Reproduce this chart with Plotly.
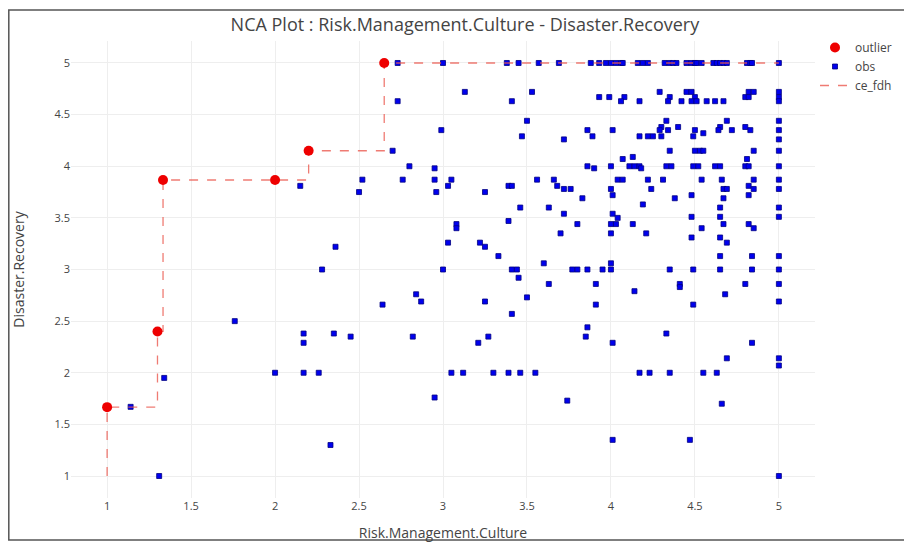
import plotly.graph_objects as go

# Outliers (red circles)
outlier_x = [1.00, 1.30, 1.333, 2.00, 2.20, 2.65]
outlier_y = [1.667, 2.40, 3.867, 3.867, 4.15, 5.00]

# CE-FDH ceiling line (step function)
ce_x = [1.00, 1.00, 1.30, 1.30, 1.333, 1.333, 2.20, 2.20, 2.65, 2.65, 5.00]
ce_y = [1.00, 1.667, 1.667, 2.40, 2.40, 3.867, 3.867, 4.15, 4.15, 5.00, 5.00]

# Observations
obs_x = [
    2.73, 3.00, 3.38, 3.45, 3.57, 3.69, 3.88, 3.93, 3.97, 4.00, 4.03, 4.06, 4.07, 4.16, 4.19, 4.22, 4.32,
    4.35, 4.37, 4.39, 4.45, 4.48, 4.50, 4.51, 4.54, 4.61, 4.63, 4.65, 4.67, 4.69, 4.81, 4.83, 4.84, 5.00,
    3.13, 3.53, 4.29, 4.45, 4.48, 4.82, 4.85, 5.00,
    3.93, 3.99, 4.08, 4.35, 4.50, 4.80, 4.82, 5.00,
    2.73, 3.41, 4.06, 4.17, 4.34, 4.42, 4.48, 4.51, 4.57, 4.62, 4.67, 5.00,
    3.50, 4.33, 4.69, 5.00,
    4.30, 4.40, 4.65, 4.80,
    2.99, 3.86, 4.01, 4.29, 4.34, 4.50, 4.64, 4.72, 4.83, 5.00,
    4.55,
    3.47, 3.89, 4.17, 4.22, 4.25, 4.30, 4.49,
    3.72, 5.00,
    2.70, 4.35, 4.50, 4.53, 4.55, 4.85, 5.00,
    4.13,
    4.07, 4.81,
    2.80, 3.86, 4.00, 4.11, 4.14, 4.17, 4.33, 4.36, 4.49, 4.52, 4.62, 4.65, 4.80, 4.82, 5.00,
    2.95, 3.90, 4.18,
    2.52, 2.76, 2.95, 3.05, 3.56, 3.66, 4.04, 4.07, 4.22, 4.31, 4.54, 4.66, 4.85, 5.00,
    2.15, 3.03, 3.39, 3.41, 3.68, 4.82,
    3.72, 3.76, 4.00, 4.24, 4.67, 4.69, 4.85, 5.00,
    2.50, 2.96, 3.25,
    4.01, 4.48, 4.82,
    3.83, 4.38, 4.67,
    4.19,
    3.46, 3.63, 4.65, 5.00,
    3.72, 4.01,
    4.48, 4.65, 5.00,
    4.04,
    3.39,
    3.08, 3.80, 4.00, 4.03, 4.13, 4.67, 4.82,
    3.08, 4.54, 4.85,
    3.70, 4.00, 4.21,
    4.48, 4.65,
    3.03, 3.22, 4.69,
    2.36, 3.25,
    3.33, 4.65, 4.84, 5.00,
    3.60, 4.00,
    2.28, 3.00, 3.41, 3.44, 3.77, 3.80, 3.86, 3.95, 4.00, 4.35, 4.49, 4.65, 4.84, 5.00,
    3.45,
    3.63, 3.91, 4.41, 4.80, 5.00,
    4.41,
    4.14,
    2.84, 4.68,
    3.50,
    2.87, 3.25, 5.00,
    2.64, 3.91, 4.49,
    3.41,
    1.76,
    3.86,
    2.17, 2.35, 4.33,
    2.45, 2.82, 3.27, 3.85,
    2.17, 3.21, 4.01, 4.84,
    4.69, 5.00,
    5.00,
    2.00, 2.17, 2.26, 3.05, 3.12, 3.30, 3.39, 3.46, 3.55, 4.17, 4.23, 4.35, 4.55, 4.63,
    1.34,
    2.95,
    3.74,
    4.66,
    1.14,
    4.01, 4.47,
    2.33,
    1.31, 5.00,
]

obs_y = [
    5.00, 5.00, 5.00, 5.00, 5.00, 5.00, 5.00, 5.00, 5.00, 5.00, 5.00, 5.00, 5.00, 5.00, 5.00, 5.00, 5.00,
    5.00, 5.00, 5.00, 5.00, 5.00, 5.00, 5.00, 5.00, 5.00, 5.00, 5.00, 5.00, 5.00, 5.00, 5.00, 5.00, 5.00,
    4.72, 4.72, 4.72, 4.72, 4.72, 4.72, 4.72, 4.72,
    4.67, 4.67, 4.67, 4.67, 4.67, 4.67, 4.67, 4.67,
    4.63, 4.63, 4.63, 4.63, 4.63, 4.63, 4.63, 4.63, 4.63, 4.63, 4.63, 4.63,
    4.44, 4.44, 4.44, 4.44,
    4.38, 4.38, 4.38, 4.38,
    4.35, 4.35, 4.35, 4.35, 4.35, 4.35, 4.35, 4.35, 4.35, 4.35,
    4.32,
    4.29, 4.29, 4.29, 4.29, 4.29, 4.29, 4.29,
    4.26, 4.26,
    4.15, 4.15, 4.15, 4.15, 4.15, 4.15, 4.15,
    4.09,
    4.07, 4.07,
    4.00, 4.00, 4.00, 4.00, 4.00, 4.00, 4.00, 4.00, 4.00, 4.00, 4.00, 4.00, 4.00, 4.00, 4.00,
    3.98, 3.98, 3.98,
    3.87, 3.87, 3.87, 3.87, 3.87, 3.87, 3.87, 3.87, 3.87, 3.87, 3.87, 3.87, 3.87, 3.87,
    3.81, 3.81, 3.81, 3.81, 3.81, 3.81,
    3.78, 3.78, 3.78, 3.78, 3.78, 3.78, 3.78, 3.78,
    3.75, 3.75, 3.75,
    3.72, 3.72, 3.72,
    3.69, 3.69, 3.69,
    3.63,
    3.60, 3.60, 3.60, 3.60,
    3.54, 3.54,
    3.51, 3.51, 3.51,
    3.50,
    3.47,
    3.44, 3.44, 3.44, 3.44, 3.44, 3.44, 3.44,
    3.40, 3.40, 3.40,
    3.35, 3.35, 3.35,
    3.31, 3.31,
    3.26, 3.26, 3.26,
    3.22, 3.22,
    3.13, 3.13, 3.13, 3.13,
    3.06, 3.06,
    3.00, 3.00, 3.00, 3.00, 3.00, 3.00, 3.00, 3.00, 3.00, 3.00, 3.00, 3.00, 3.00, 3.00,
    2.92,
    2.86, 2.86, 2.86, 2.86, 2.86,
    2.83,
    2.79,
    2.76, 2.76,
    2.73,
    2.69, 2.69, 2.69,
    2.66, 2.66, 2.66,
    2.57,
    2.50,
    2.44,
    2.38, 2.38, 2.38,
    2.35, 2.35, 2.35, 2.35,
    2.29, 2.29, 2.29, 2.29,
    2.14, 2.14,
    2.07,
    2.00, 2.00, 2.00, 2.00, 2.00, 2.00, 2.00, 2.00, 2.00, 2.00, 2.00, 2.00, 2.00, 2.00,
    1.95,
    1.76,
    1.73,
    1.70,
    1.67,
    1.35, 1.35,
    1.30,
    1.00, 1.00,
]

assert len(obs_x) == len(obs_y), (len(obs_x), len(obs_y))

x_ticks = [1, 1.5, 2, 2.5, 3, 3.5, 4, 4.5, 5]
y_ticks = [1, 1.5, 2, 2.5, 3, 3.5, 4, 4.5, 5]

fig = go.Figure()
fig.add_trace(go.Scatter(
    x=obs_x, y=obs_y, mode="markers", name="obs", legendrank=2,
    marker=dict(symbol="square", size=5, color="#0000ee",
                line=dict(color="#000080", width=0.8)),
))
fig.add_trace(go.Scatter(
    x=ce_x, y=ce_y, mode="lines", name="ce_fdh", legendrank=3,
    line=dict(color="rgba(235,90,80,0.8)", width=1.3, dash="dash"),
))
fig.add_trace(go.Scatter(
    x=outlier_x, y=outlier_y, mode="markers", name="outlier", legendrank=1,
    marker=dict(symbol="circle", size=10, color="#ee0000"),
))

# page body adds an 8px offset; margins compensate for it
L, R, T, B = 63, 105, 33, 53
W, H = 912, 543
pw, ph = W - L - R, H - T - B

fig.update_layout(
    width=W, height=H,
    margin=dict(l=L, r=R, t=T, b=B, autoexpand=False),
    paper_bgcolor="white", plot_bgcolor="white",
    font=dict(family="Open Sans, Verdana, sans-serif", color="#444", size=12),
    title=dict(text="NCA Plot : Risk.Management.Culture - Disaster.Recovery",
               x=0.501, xanchor="center", y=1 - 17 / H, yanchor="middle",
               font=dict(size=18, color="#444")),
    legend=dict(x=1.0, y=1.0 + 8 / ph, xanchor="left", yanchor="top",
                font=dict(size=12, color="#444"), bgcolor="rgba(0,0,0,0)"),
    xaxis=dict(range=[0.785, 5.215], tickvals=x_ticks, gridcolor="#eeeeee",
               zeroline=False, showline=False, automargin=False,
               tickfont=dict(size=11),
               title=dict(text="Risk.Management.Culture", font=dict(size=14), standoff=16)),
    yaxis=dict(range=[0.787, 5.213], tickvals=y_ticks, gridcolor="#eeeeee",
               zeroline=False, showline=False, automargin=False,
               tickfont=dict(size=11),
               title=dict(text="Disaster.Recovery", font=dict(size=14), standoff=26)),
    shapes=[dict(type="rect", xref="paper", yref="paper",
                 x0=(0.8 - L) / pw, x1=(940 - L) / pw,
                 y0=(H - B - 532) / ph, y1=(H - B - 2) / ph,
                 line=dict(color="#555555", width=1.5), layer="above")],
)

fig.write_html("out.html")
